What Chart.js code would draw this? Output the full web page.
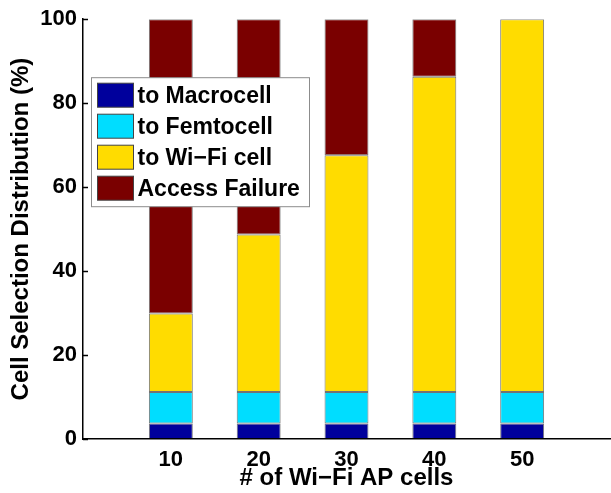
<!DOCTYPE html>
<html>
<head>
<meta charset="utf-8">
<script src="https://cdn.jsdelivr.net/npm/chart.js@4"></script>
<style>
  html, body { margin: 0; padding: 0; background: #fff; }
</style>
</head>
<body>
<canvas id="chart" width="611" height="493"></canvas>
<script>
// data (percent of users)
const apCells = [10, 20, 30, 40, 50];
const toMacrocell = [3.7, 3.7, 3.7, 3.7, 3.7];
const toFemtocell = [7.5, 7.5, 7.5, 7.5, 7.5];
const toWifiCell = [18.7, 37.5, 56.4, 75.1, 88.8];
const accessFailure = [70.1, 51.3, 32.4, 13.7, 0];
const seriesNames = ['to Macrocell', 'to Femtocell', 'to Wi\u2212Fi cell', 'Access Failure'];
const seriesColors = ['#00009c', '#00ddff', '#ffdc00', '#7a0000'];
const xTickLabels = [10, 20, 30, 40, 50];

const FONT = '"Liberation Sans", Arial, Helvetica, sans-serif';

const toPoints = vals => vals.map((v, i) => ({ x: apCells[i], y: v }));

// MATLAB style ticks pointing into the plot
const inwardTicks = {
  id: 'inwardTicks',
  afterDatasetsDraw(chart) {
    const { ctx, chartArea, scales } = chart;
    const y = scales.y;
    ctx.save();
    ctx.strokeStyle = '#000';
    ctx.lineWidth = 1.5;
    y.ticks.forEach(t => {
      const py = Math.round(y.getPixelForValue(t.value)) + 0.5;
      ctx.beginPath();
      ctx.moveTo(chartArea.left, py);
      ctx.lineTo(chartArea.left + 5, py);
      ctx.stroke();
    });
    ctx.restore();
  }
};

// legend box drawn inside the axes, on top of the bars
const boxLegend = {
  id: 'boxLegend',
  afterDraw(chart) {
    const { ctx, chartArea } = chart;
    const left = chartArea.left + 8.5;
    const top = chartArea.top + 58.5;
    const w = 218, h = 129;
    ctx.save();
    ctx.fillStyle = '#fff';
    ctx.fillRect(left, top, w, h);
    ctx.strokeStyle = '#8c8c8c';
    ctx.lineWidth = 1;
    ctx.strokeRect(left, top, w, h);
    ctx.font = 'bold 23px ' + FONT;
    ctx.textBaseline = 'middle';
    chart.data.datasets.forEach((ds, i) => {
      const sy = top + 5.5 + i * 31;
      ctx.fillStyle = ds.backgroundColor;
      ctx.fillRect(left + 6, sy, 36, 24);
      ctx.strokeStyle = '#444';
      ctx.strokeRect(left + 6, sy, 36, 24);
      ctx.fillStyle = '#000';
      ctx.fillText(ds.label, left + 46, sy + 13);
    });
    ctx.restore();
  }
};

const seriesValues = [toMacrocell, toFemtocell, toWifiCell, accessFailure];

new Chart(document.getElementById('chart').getContext('2d'), {
  type: 'bar',
  data: {
    datasets: seriesValues.map((vals, i) => ({
      label: seriesNames[i],
      data: toPoints(vals),
      backgroundColor: seriesColors[i],
      borderColor: 'rgba(0,0,0,0.55)',
      borderWidth: 1,
      borderSkipped: false,
      barPercentage: 0.5,
      categoryPercentage: 1.0
    }))
  },
  options: {
    responsive: false,
    animation: false,
    layout: { padding: { top: 19, right: 1, left: 0, bottom: 0 } },
    plugins: {
      legend: { display: false },
      tooltip: { enabled: false }
    },
    scales: {
      x: {
        type: 'linear',
        stacked: true,
        offset: false,
        min: 0,
        max: 60,
        grid: { display: false, drawTicks: false },
        border: { display: true, color: '#000', width: 1.5 },
        ticks: {
          stepSize: 10,
          padding: 8,
          color: '#000',
          font: { family: FONT, size: 22, weight: 'bold' },
          callback: v => (xTickLabels.includes(v) ? String(v) : '')
        },
        title: {
          display: true,
          text: '# of Wi\u2212Fi AP cells',
          color: '#000',
          font: { family: FONT, size: 24, weight: 'bold', lineHeight: 1 },
          padding: { top: 0, bottom: 3 }
        },
        afterFit: s => {
          s.height = 54;
          s.paddingLeft = 0;
          s.paddingRight = 0;
        }
      },
      y: {
        stacked: true,
        min: 0,
        max: 100,
        grid: { display: false, drawTicks: false },
        border: { display: true, color: '#000', width: 1.5 },
        ticks: {
          stepSize: 20,
          padding: 6,
          color: '#000',
          font: { family: FONT, size: 22, weight: 'bold' }
        },
        title: {
          display: true,
          text: 'Cell Selection Distribution (%)',
          color: '#000',
          font: { family: FONT, size: 24, weight: 'bold', lineHeight: 1 },
          padding: { top: 9, bottom: 0 }
        },
        afterFit: s => { s.width = 83; }
      }
    }
  },
  plugins: [inwardTicks, boxLegend]
});
</script>
</body>
</html>
